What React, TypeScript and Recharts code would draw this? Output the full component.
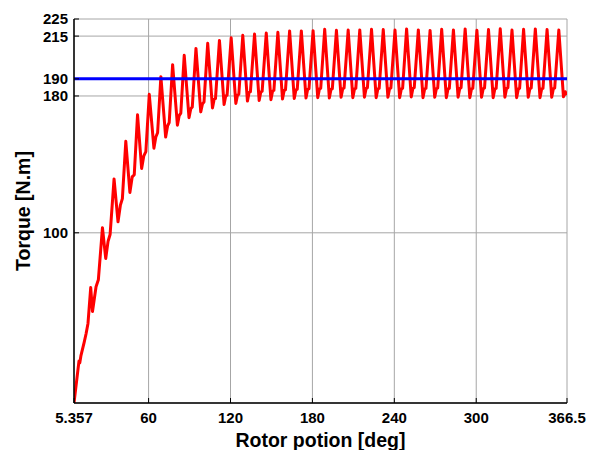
import React from 'react';
import { LineChart, Line, XAxis, YAxis, CartesianGrid } from 'recharts';

const xTicks = [5.357, 60, 120, 180, 240, 300, 366.5];
const yTicks = [100, 180, 190, 215, 225];
const xDomain: [number, number] = [5.357, 366.5];
const yDomain: [number, number] = [0.5, 225];
const ratedTorque = 190;
const xTitle = 'Rotor potion [deg]';
const yTitle = 'Torque [N.m]';

// [rotor position (deg), torque (N.m)]
const torqueCurve: [number, number][] = [
  [5.357, 0.5], [9.0, 25], [9.6, 24], [10.4, 28], [12.8, 36], [14.2, 41], [15.6, 47],
  [17.6, 68], [18.9, 54], [21.5, 68.5], [23.2, 72.5],
  [26.2, 103], [28.6, 85], [30.3, 95], [31.8, 99],
  [34.7, 131.5], [37.6, 106.4], [39.3, 116], [40.8, 120],
  [43.3, 153.5], [46.3, 123.6], [48.0, 132.7], [49.5, 134],
  [51.9, 169], [54.9, 137.6], [56.5, 145], [58.0, 147.5],
  [60.5, 181], [63.9, 149.5], [65.3, 156], [66.6, 158.5],
  [69.0, 191.3], [72.5, 156], [73.9, 162.5], [75.1, 164.5],
  [77.6, 198.3], [81.1, 162.9], [82.4, 168.5], [83.6, 170],
  [86.1, 203.8], [89.6, 167.3], [90.9, 172.5], [92.0, 173.5],
  [94.7, 207.8], [98.2, 170.7], [99.5, 175.5], [100.6, 176.5],
  [103.3, 210.8], [106.8, 173], [108.0, 178], [109.0, 178.5],
  [111.9, 212.5], [115.3, 175], [116.5, 180], [117.5, 180.5],
  [120.5, 214], [123.9, 175.6], [125.1, 180.5], [126.1, 181],
  [129.0, 215.5], [132.4, 177], [133.6, 182], [134.6, 182.5],
  [137.6, 216.2], [141.0, 177.3], [142.2, 182.3], [143.2, 182.8],
  [146.2, 216.8], [149.6, 177.8], [150.8, 182.8], [151.8, 183.3],
  [154.7, 217.2], [158.1, 178.2], [159.3, 183.2], [160.3, 183.7],
  [163.3, 218], [166.7, 178.5], [167.9, 183.5], [168.9, 184],
  [171.9, 218], [175.3, 178.8], [176.5, 183.8], [177.5, 184.3],
  [180.5, 218.2], [183.9, 179], [185.1, 184], [186.1, 184.5],
  [189.0, 219], [192.4, 178.8], [193.6, 183.8], [194.6, 184.3],
  [197.6, 218.4], [201.0, 179.2], [202.2, 184.2], [203.2, 184.7],
  [206.2, 218.5], [209.6, 179], [210.8, 184], [211.8, 184.5],
  [214.7, 218.6], [218.1, 179.3], [219.3, 184.3], [220.3, 184.8],
  [223.3, 219], [226.7, 179], [227.9, 184], [228.9, 184.5],
  [231.9, 218.8], [235.3, 179.2], [236.5, 184.2], [237.5, 184.7],
  [240.5, 218.5], [243.9, 179], [245.1, 184], [246.1, 184.5],
  [249.0, 219.2], [252.4, 179.4], [253.6, 184.4], [254.6, 184.9],
  [257.6, 218.6], [261.0, 179], [262.2, 184], [263.2, 184.5],
  [266.2, 218.3], [269.6, 179.2], [270.8, 184.2], [271.8, 184.7],
  [274.7, 219], [278.1, 179], [279.3, 184], [280.3, 184.5],
  [283.3, 218.6], [286.7, 179.3], [287.9, 184.3], [288.9, 184.8],
  [291.9, 219.2], [295.3, 179], [296.5, 184], [297.5, 184.5],
  [300.5, 218.4], [303.9, 179.2], [305.1, 184.2], [306.1, 184.7],
  [309.0, 218.8], [312.4, 179], [313.6, 184], [314.6, 184.5],
  [317.6, 219.3], [321.0, 179.3], [322.2, 184.3], [323.2, 184.8],
  [326.2, 218.5], [329.6, 179], [330.8, 184], [331.8, 184.5],
  [334.7, 219], [338.1, 179.2], [339.3, 184.2], [340.3, 184.7],
  [343.3, 219.2], [346.7, 179], [347.9, 184], [348.9, 184.5],
  [351.9, 218.8], [355.3, 179.2], [356.5, 184.2], [357.5, 184.7],
  [360.5, 218.5], [363.9, 179.5], [365.2, 182.5], [366.5, 180.5],
];

const curveData = torqueCurve.map(([x, y]) => ({ x, y }));
const ratedData = xDomain.map((x) => ({ x, y: ratedTorque }));

const FONT = '"Liberation Sans", Arial, Helvetica, sans-serif';

const fmtX = (v: number) => String(v);

const XTickBottom = (props: any) => {
  const { x, y, payload } = props;
  return (
    <g>
      <line x1={x} y1={y} x2={x} y2={y - 5} stroke="#000" strokeWidth={1} />
      <text x={x} y={y + 20} textAnchor="middle" fontSize={15} fontWeight="bold" fill="#000" fontFamily={FONT}>
        {fmtX(payload.value)}
      </text>
    </g>
  );
};

const XTickTop = (props: any) => {
  const { x, y } = props;
  return <line x1={x} y1={y} x2={x} y2={y + 5} stroke="#000" strokeWidth={1} />;
};

const YTickLeft = (props: any) => {
  const { x, y, payload } = props;
  return (
    <g>
      <line x1={x} y1={y} x2={x + 5} y2={y} stroke="#000" strokeWidth={1} />
      <text x={x - 6} y={y + 5.4} textAnchor="end" fontSize={15} fontWeight="bold" fill="#000" fontFamily={FONT}>
        {String(payload.value)}
      </text>
    </g>
  );
};

const YTickRight = (props: any) => {
  const { x, y } = props;
  return <line x1={x} y1={y} x2={x - 5} y2={y} stroke="#000" strokeWidth={1} />;
};

const XTitle = (props: any) => {
  const vb = props.viewBox || { x: 74, y: 403, width: 493, height: 47 };
  return (
    <text x={vb.x + vb.width / 2} y={vb.y + 44} textAnchor="middle" fontSize={19.5} fontWeight="bold" fill="#000" fontFamily={FONT}>
      {xTitle}
    </text>
  );
};

const YTitle = (props: any) => {
  const vb = props.viewBox || { x: 0, y: 19, width: 74, height: 384 };
  const cx = 29.5;
  const cy = vb.y + vb.height / 2;
  return (
    <text x={cx} y={cy} transform={`rotate(-90 ${cx} ${cy})`} textAnchor="middle" fontSize={19.5} fontWeight="bold" fill="#000" fontFamily={FONT}>
      {yTitle}
    </text>
  );
};

export default function App() {
  return (
    <div style={{ position: 'absolute', left: 0, top: 0, width: 595, height: 450, background: '#fff' }}>
      <LineChart width={595} height={450} margin={{ top: 19, right: 28, bottom: 0, left: 0 }}>
        <CartesianGrid stroke="#a6a6a6" strokeWidth={1} />
        <XAxis
          dataKey="x"
          type="number"
          domain={xDomain}
          ticks={xTicks}
          allowDataOverflow
          height={47}
          tickSize={0}
          tickMargin={0}
          tick={<XTickBottom />}
          axisLine={{ stroke: '#000', strokeWidth: 1.5 }}
          tickLine={false}
          interval={0}
          label={{ content: <XTitle /> } as any}
        />
        <XAxis
          xAxisId="top"
          orientation="top"
          dataKey="x"
          type="number"
          domain={xDomain}
          ticks={xTicks}
          allowDataOverflow
          height={0}
          tickSize={0}
          tickMargin={0}
          tick={<XTickTop />}
          axisLine={{ stroke: '#000', strokeWidth: 1.5 }}
          tickLine={false}
          interval={0}
        />
        <YAxis
          type="number"
          domain={yDomain}
          ticks={yTicks}
          allowDataOverflow
          width={74}
          tickSize={0}
          tickMargin={0}
          tick={<YTickLeft />}
          axisLine={{ stroke: '#000', strokeWidth: 1.5 }}
          tickLine={false}
          interval={0}
          label={{ content: <YTitle /> } as any}
        />
        <YAxis
          yAxisId="right"
          orientation="right"
          type="number"
          domain={yDomain}
          ticks={yTicks}
          allowDataOverflow
          width={0}
          tickSize={0}
          tickMargin={0}
          tick={<YTickRight />}
          axisLine={{ stroke: '#000', strokeWidth: 1.5 }}
          tickLine={false}
          interval={0}
        />
        <Line
          data={curveData}
          dataKey="y"
          type="linear"
          stroke="#ff0000"
          strokeWidth={3}
          dot={false}
          isAnimationActive={false}
          strokeLinejoin="round"
        />
        <Line
          data={ratedData}
          dataKey="y"
          type="linear"
          stroke="#0000ff"
          strokeWidth={3}
          dot={false}
          isAnimationActive={false}
        />
      </LineChart>
    </div>
  );
}
